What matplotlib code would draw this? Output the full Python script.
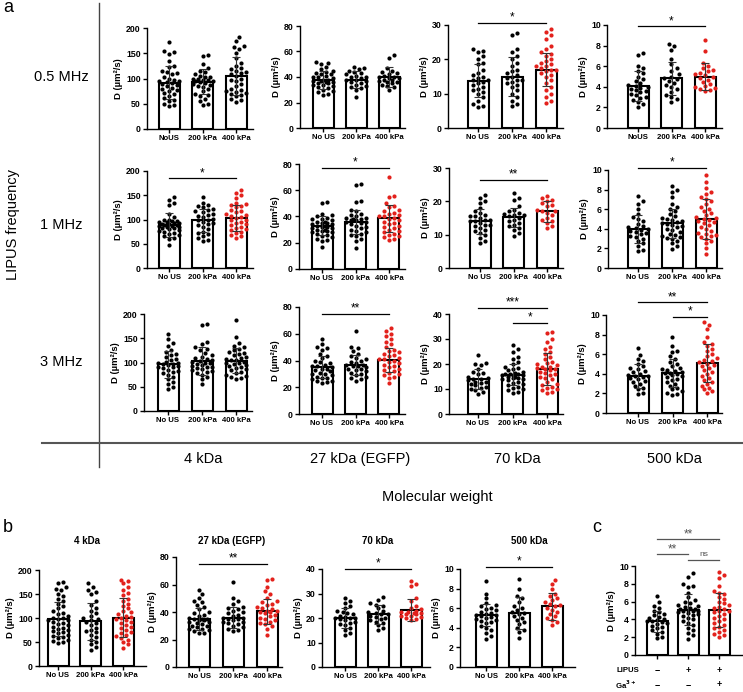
import numpy as np
import matplotlib
matplotlib.use("Agg")
import matplotlib.pyplot as plt
import matplotlib.font_manager as fm
from matplotlib import transforms

# ---------------- DATA ----------------
groups_std = ["No US", "200 kPa", "400 kPa"]
groups_r1 = ["NoUS", "200 kPa", "400 kPa"]
freq_labels = ["0.5 MHz", "1 MHz", "3 MHz"]
mw_labels = ["4 kDa", "27 kDa (EGFP)", "70 kDa", "500 kDa"]

# panel a, row 0.5 MHz
a_r1_4k = [[172,155,152,148,135,125,122,115,112,108,103,100,98,95,93,92,90,88,85,82,80,78,75,70,66,62,58,55,50,47,45,72,96,110],
           [147,145,128,120,115,112,108,105,102,100,98,97,96,95,93,92,90,88,86,84,80,75,70,68,65,60,55,50,47,103,99],
           [183,175,165,162,158,150,140,130,125,120,118,115,112,108,105,100,98,95,90,85,80,78,76,74,72,70,68,65,60,57,53,110]]
a_r1_4k_mean = [92, 94, 105]
a_r1_4k_sd = [32, 25, 37]
a_r1_27k = [[52,51,50,48,46,45,44,43,42,41,40,39,38,38,37,36,36,35,34,34,33,32,31,30,29,28,27,26,37,35,40,42],
            [48,47,46,45,44,43,42,41,40,39,38,37,36,35,34,33,32,31,30,24,38,40],
            [57,55,47,45,44,43,42,41,40,39,38,38,37,36,36,35,34,33,32,30,39,40]]
a_r1_27k_mean = [37.5, 38, 40]
a_r1_27k_sd = [7, 7, 7.5]
a_r1_70k = [[23,22.5,22,21,20,19,18.5,17,16,15,14.5,14,13.5,13,12.5,12,11.5,11,10.5,10,9,8,7,6.5,6,14,15.5],
            [27.7,27,23,22,21,20,19,18,17,16,15.5,15,14.5,14,13.5,13,12.5,12,11,10,9,8,7,6.5,16.5,14],
            [28.8,28,27,26,24,23,22,21.5,21,20,19.5,19,18.5,18,17.5,17,16.5,16,15.5,15,14,13,12,11,10,9,8,7.3,17,18]]
a_r1_70k_mean = [13.8, 15, 17]
a_r1_70k_sd = [4.7, 5.8, 4.8]
a_r1_500k = [[7.3,7.1,6.0,5.8,5.5,5.3,5.0,4.8,4.6,4.4,4.2,4.0,3.9,3.8,3.6,3.5,3.3,3.2,3.0,2.9,2.7,2.5,2.3,2.0,4.1,3.7],
             [8.2,8.0,7.6,6.7,6.2,5.8,5.5,5.2,5.0,4.8,4.6,4.4,4.2,4.0,3.8,3.5,3.2,3.0,2.8,2.5,4.9],
             [8.5,7.5,6.3,6.0,5.8,5.6,5.5,5.3,5.1,5.0,4.9,4.7,4.5,4.3,4.1,4.0,3.9,3.8,3.7,3.6,5.2]]
a_r1_500k_mean = [4.05, 4.85, 5.0]
a_r1_500k_sd = [1.45, 1.6, 1.3]

# panel a, row 1 MHz
a_r2_4k = [[146,140,135,130,112,105,100,98,96,95,94,93,92,90,89,88,87,86,85,84,83,82,80,78,76,75,73,70,68,65,62,60,48,91,97],
           [146,135,130,128,125,122,120,117,115,112,108,105,100,98,95,92,90,88,85,80,75,72,70,65,62,58,55,102,110],
           [160,155,150,145,135,132,130,128,125,120,118,115,112,110,108,105,100,98,95,92,90,88,85,82,80,78,75,72,68,65,62,103]]
a_r2_4k_mean = [88, 98, 103]
a_r2_4k_sd = [25, 24, 27]
a_r2_27k = [[51,50,42,41,40,39,38,37,36,35,35,34,34,33,33,32,32,31,31,30,30,29,29,28,28,27,26,25,24,23,22,21,17,36,38],
            [65,64,52,51,45,44,42,41,40,39,38,38,37,36,36,35,34,33,32,31,30,29,28,27,26,25,23,21,16,37,39],
            [70,56,55,50,48,47,45,44,43,42,41,40,39,38,37,36,35,34,33,32,31,30,29,28,27,26,25,24,23,22,40]]
a_r2_27k_mean = [33, 36, 38.5]
a_r2_27k_sd = [7, 9, 10]
a_r2_70k = [[22,21,20,19.5,18,17,16.5,16,15.5,15,14.5,14,14,13.5,13,13,12.5,12,11.5,11,10.5,10,9,8,7.5,14.5,15.5],
            [22.5,21,20.5,18.5,17.5,17,16.5,16,15.5,15,14.5,14,13.5,13,12.5,12,11.5,10.5,9.5,15.8,16.2],
            [21.5,21,20.5,20,19.5,19,18.5,17.5,17,16.5,16,15,14.5,14,13.5,12.5,12,17.2]]
a_r2_70k_mean = [14, 15.2, 17]
a_r2_70k_sd = [3.7, 2.9, 3.2]
a_r2_500k = [[7.3,6.8,6.5,6.0,5.5,5.2,5.0,4.8,4.5,4.3,4.2,4.0,3.9,3.8,3.7,3.5,3.3,3.2,3.0,2.8,2.5,2.2,1.8,1.7,4.1,3.6],
             [8.4,8.0,7.8,7.2,6.5,6.2,6.0,5.8,5.5,5.3,5.0,4.9,4.8,4.6,4.5,4.3,4.2,4.0,3.9,3.7,3.5,3.4,3.3,3.2,3.1,3.0,2.8,2.5,2.2,1.9,4.4,4.7,5.1],
             [9.5,8.8,8.2,7.8,7.5,7.2,7.0,6.8,6.5,6.2,6.0,5.8,5.6,5.4,5.2,5.0,4.9,4.8,4.6,4.4,4.2,4.0,3.8,3.6,3.5,3.4,3.3,3.2,3.0,2.8,2.5,2.0,1.4,5.1,4.7]]
a_r2_500k_mean = [4.0, 4.55, 5.0]
a_r2_500k_sd = [1.4, 1.5, 2.0]

# panel a, row 3 MHz
a_r3_4k = [[158,148,140,135,125,122,118,115,112,108,105,102,100,98,96,95,93,91,90,88,85,82,80,78,75,70,65,60,55,50,45,97],
           [180,178,142,138,132,128,125,120,115,112,110,108,105,102,100,98,96,95,93,91,90,88,86,84,82,80,78,75,70,65,55,104],
           [188,152,140,135,132,128,125,122,120,118,115,112,110,108,105,102,100,98,96,94,92,90,88,86,84,80,78,75,72,70,68,66,106]]
a_r3_4k_mean = [96, 103, 104]
a_r3_4k_sd = [27, 28, 26]
a_r3_27k = [[56,52,50,49,48,45,43,42,40,39,38,37,36,35,34,34,33,32,31,30,30,29,28,27,27,26,25,25,24,23,36],
            [62,50,49,47,45,43,42,41,40,39,38,37,36,36,35,34,34,33,32,31,30,29,28,27,26,25,37],
            [64,62,60,58,56,54,52,50,48,47,46,45,44,43,42,41,40,39,38,37,36,35,34,33,32,31,30,29,28,27,23,41]]
a_r3_27k_mean = [35, 36.5, 40.5]
a_r3_27k_sd = [8, 7.5, 9]
a_r3_70k = [[23.5,20.5,20,19.5,18,17,16.5,16,15,14.5,14,13.5,13,12.5,12,11.5,11,10.5,10,9.5,9,8,14,13],
            [27.5,26,25,23,22,21,20,19,18.5,18,17.5,17,16.5,16,16,15.5,15.5,15,15,14.5,14.5,14,14,13.5,13,12.5,12,11.5,11,10.5,10,9.5,9,8.5,16,15.8],
            [33,32.5,30,29,27,26,25,24,23,22,21,20.5,20,19.5,19,18.5,18,17.5,17,16.5,16,15.5,15,14.5,14,13,12,11.5,11,10.5,10,9.5,9,8.5,18,19]]
a_r3_70k_mean = [14, 15.8, 18]
a_r3_70k_sd = [4, 4.2, 6.3]
a_r3_500k = [[6.6,5.9,5.5,5.3,5.0,4.8,4.6,4.5,4.3,4.2,4.0,3.9,3.8,3.7,3.6,3.5,3.3,3.2,3.0,2.8,2.6,2.4,2.0,1.9,3.8],
             [7.8,6.8,6.3,6.2,5.8,5.5,5.2,5.0,4.8,4.6,4.5,4.4,4.2,4.1,4.0,3.9,3.8,3.7,3.5,3.4,3.2,3.0,2.8,2.6,2.4,2.2,2.0,1.9,1.8,4.1,4.3],
             [9.3,9.0,8.6,7.8,7.2,7.0,6.8,6.5,6.3,6.0,5.8,5.6,5.4,5.2,5.0,4.9,4.8,4.6,4.4,4.2,4.0,3.8,3.6,3.4,3.2,3.0,2.8,2.6,2.4,2.2,2.0,5.3]]
a_r3_500k_mean = [3.8, 4.1, 5.1]
a_r3_500k_sd = [1.2, 1.4, 1.9]

# panel b
b_4k = [[175,172,165,160,158,150,145,140,135,130,125,120,115,110,108,105,100,98,95,92,90,88,85,82,80,78,75,72,70,68,65,62,60,58,55,52,50,47,100,96],
        [172,165,158,155,150,135,128,120,115,110,105,100,98,95,90,85,80,75,72,70,65,60,55,50,45,40,33,92],
        [180,178,172,165,158,152,148,140,135,130,125,120,115,112,108,105,100,97,95,92,90,85,82,80,75,70,68,65,62,58,55,50,45,38,102]]
b_4k_mean = [98, 93, 101]
b_4k_sd = [35, 38, 40]
b_27k = [[56,53,50,48,47,45,44,42,40,39,38,37,36,35,35,34,33,33,32,31,30,30,29,28,28,27,26,25,25,35,34],
         [62,50,48,46,44,43,42,41,40,39,38,37,36,35,35,34,33,33,32,31,30,29,28,27,26,36],
         [64,63,58,55,53,50,48,47,46,45,44,43,42,41,40,40,39,38,37,36,35,34,33,32,31,30,28,23,41]]
b_27k_mean = [35, 36, 40.5]
b_27k_sd = [8, 7.5, 9]
b_70k = [[28,27,26,25,24,23,22.5,22,21.5,21,20.5,20,20,19.5,19,18.5,18,17.5,17,16,15,14,13,20],
         [28.5,27.5,26,25.5,25,24,23,22.5,22,21.5,21,20.5,20,19.5,19,18.5,18,17,16,15,21.5],
         [35,34,33,28,27,25,24,23.5,23,22.5,22,22,21.5,21.5,21,21,20.5,20,19.5,19,22.5]]
b_70k_mean = [20, 21.5, 23.3]
b_70k_sd = [4, 3.8, 4.5]
b_500k = [[8.8,7.5,7.0,6.5,6.3,6.2,6.0,5.9,5.8,5.6,5.5,5.4,5.3,5.2,5.1,5.0,4.9,4.8,4.7,4.6,4.5,4.2,4.0,3.8,3.5,3.2,2.9,5.3],
          [9.0,8.0,7.2,7.0,6.6,6.2,6.0,5.8,5.6,5.4,5.2,5.0,4.8,4.6,4.4,4.0,3.8,3.6,3.0,5.5],
          [8.9,8.5,8.0,7.5,7.2,7.0,6.8,6.6,6.4,6.2,6.0,5.8,5.6,5.4,5.2,5.0,4.8,4.6,4.3,6.3]]
b_500k_mean = [5.3, 5.5, 6.2]
b_500k_sd = [1.1, 1.6, 1.4]

# panel c
c_lipus = ["\u2212", "+", "+"]
c_ga = ["\u2212", "\u2212", "+"]
c_vals = [[6.6,5.9,5.5,5.3,5.0,4.8,4.6,4.5,4.3,4.2,4.0,3.9,3.8,3.7,3.6,3.5,3.3,3.2,3.0,2.8,2.6,2.4,2.0,1.9,3.8],
          [9.2,8.8,8.0,7.8,7.6,7.0,6.5,6.2,6.0,5.8,5.6,5.5,5.4,5.3,5.2,5.1,5.0,4.9,4.8,4.7,4.6,4.5,4.4,4.2,4.0,3.8,3.6,3.4,3.0,2.8,2.5,2.2,1.8,5.0,5.2],
          [9.3,9.0,8.6,7.8,7.2,7.0,6.8,6.5,6.3,6.0,5.8,5.6,5.4,5.2,5.0,4.9,4.8,4.6,4.4,4.2,4.0,3.8,3.6,3.4,3.2,3.0,2.8,2.6,2.4,2.2,2.0,5.3]]
c_mean = [3.8, 5.1, 5.1]
c_sd = [1.2, 1.7, 1.9]

# significance annotations: (i, j, height, label)
sig_a = [[[], [], [(0, 2, 30.6, "*")], [(0, 2, 9.87, "*")]],
         [[(0, 2, 185, "*")], [(0, 2, 77, "*")], [(0, 2, 26.4, "**")], [(0, 2, 10.2, "*")]],
         [[], [(0, 2, 74.8, "**")], [(0, 2, 42.4, "***"), (1, 2, 36.4, "*")], [(0, 2, 11.3, "**"), (1, 2, 9.8, "*")]]]
sig_b = [[], [(0, 2, 74.9, "**")], [(0, 2, 40.0, "*")], [(0, 2, 10.2, "*")]]
sig_c = [(0, 2, 13.0, "**"), (0, 1, 11.3, "**"), (1, 2, 10.7, "ns")]

# ---------------- STYLE ----------------
names = {f.name for f in fm.fontManager.ttflist}
FONT = "Liberation Sans" if "Liberation Sans" in names else "DejaVu Sans"
plt.rcParams["font.family"] = [FONT, "DejaVu Sans"]
RED = "#e3211c"
W, H = 743, 692

fig = plt.figure(figsize=(W / 100, H / 100), dpi=100)


def fx(px):
    return px / W


def fy(py):
    return 1 - py / H


def make_axes(geom):
    x0, ytop, y0, xend, b1, b3 = geom
    s = (b3 - b1) / 2.0
    ax = fig.add_axes([fx(x0), fy(y0), (xend - x0) / W, (y0 - ytop) / H])
    ax.set_xlim((x0 - b1) / s, (xend - b1) / s)
    return ax, s


def swarm_x(ax, xc, vals, d=4.4, maxhalf=10.0, step=2.5):
    T = ax.transData
    vals = np.asarray(vals, float)
    order = np.argsort(vals)
    cx = T.transform((xc, 0))[0]
    placed = []
    offs = np.zeros(len(vals))
    cands = [0.0]
    k = 1
    while k * step <= maxhalf:
        cands += [k * step, -k * step]
        k += 1
    for idx in order:
        py = T.transform((xc, vals[idx]))[1]
        best, bestd, bo = None, -1, 0.0
        for off in cands:
            md = min([np.hypot(off - px, py - qy) for px, qy in placed] + [99])
            if md >= d:
                best = off
                break
            if md > bestd:
                bestd, bo = md, off
        if best is None:
            best = bo
        placed.append((best, py))
        offs[idx] = best
    inv = T.inverted()
    return np.array([inv.transform((cx + o, 0))[0] for o in offs])


def draw_panel(ax, s, groups, means, sds, ymax, ystep, xlabels, red_last, sigs, sigcolor="black"):
    ax.set_ylim(0, ymax)
    x = np.arange(3)
    ax.bar(x, means, width=21 / s, color="white", edgecolor="black", linewidth=1.5, zorder=1)
    for i, g in enumerate(groups):
        xs = swarm_x(ax, i, g)
        col = RED if (red_last and i == 2) else "black"
        ax.scatter(xs, g, s=9, color=col, linewidths=0, zorder=2)
    ax.errorbar(x, means, yerr=sds, fmt="none", ecolor="#333333", elinewidth=0.8,
                capsize=3.2, capthick=0.8, zorder=3)
    for sp in ["top", "right"]:
        ax.spines[sp].set_visible(False)
    for sp in ["left", "bottom"]:
        ax.spines[sp].set_linewidth(1.0)
    ax.set_yticks(np.arange(0, ymax + ystep / 2, ystep))
    ax.set_yticklabels([f"{v:g}" for v in np.arange(0, ymax + ystep / 2, ystep)],
                       fontsize=6.3, fontweight="bold")
    ax.set_xticks(x)
    ax.set_xticklabels(xlabels, fontsize=5.6, fontweight="bold")
    ax.tick_params(direction="out", length=3, width=1.0, pad=1.5)
    ax.set_ylabel("D (\u00b5m\u00b2/s)", fontsize=6.8, fontweight="bold", labelpad=2)
    for (i, j, h, lab) in sigs:
        ax.plot([i, j], [h, h], color=sigcolor, lw=0.9, clip_on=False, zorder=4)
        if lab == "ns":
            ax.annotate(lab, ((i + j) / 2, h), xytext=(0, 1.5), textcoords="offset points",
                        ha="center", va="bottom", fontsize=6, color=sigcolor, annotation_clip=False)
        else:
            ax.annotate(lab, ((i + j) / 2, h), xytext=(0, -0.5), textcoords="offset points",
                        ha="center", va="bottom", fontsize=8.5, color=sigcolor, annotation_clip=False)


# ---------------- PANEL A ----------------
A_GEOM = [
    [(147, 28, 129, 253, 169, 236), (300, 26, 128, 405, 323, 389), (448, 25, 128, 563, 478, 546), (607, 25, 128, 722, 638, 705)],
    [(147, 171, 268, 253, 169, 236), (299, 164, 269, 405, 322, 389), (449, 168, 268, 563, 480, 547), (608, 170, 268, 722, 638, 706)],
    [(144, 314, 411, 252, 168, 236), (299, 307, 414, 405, 322, 389), (449, 314, 414, 563, 478, 547), (606, 315, 413, 722, 638, 707)],
]
a_data = [[a_r1_4k, a_r1_27k, a_r1_70k, a_r1_500k],
          [a_r2_4k, a_r2_27k, a_r2_70k, a_r2_500k],
          [a_r3_4k, a_r3_27k, a_r3_70k, a_r3_500k]]
a_means = [[a_r1_4k_mean, a_r1_27k_mean, a_r1_70k_mean, a_r1_500k_mean],
           [a_r2_4k_mean, a_r2_27k_mean, a_r2_70k_mean, a_r2_500k_mean],
           [a_r3_4k_mean, a_r3_27k_mean, a_r3_70k_mean, a_r3_500k_mean]]
a_sds = [[a_r1_4k_sd, a_r1_27k_sd, a_r1_70k_sd, a_r1_500k_sd],
         [a_r2_4k_sd, a_r2_27k_sd, a_r2_70k_sd, a_r2_500k_sd],
         [a_r3_4k_sd, a_r3_27k_sd, a_r3_70k_sd, a_r3_500k_sd]]
a_ymax = [[200, 80, 30, 10], [200, 80, 30, 10], [200, 80, 40, 10]]
a_ystep = [[50, 20, 10, 2], [50, 20, 10, 2], [50, 20, 10, 2]]
a_red = [[False, False, True, True], [True, True, True, True], [False, True, True, True]]

for r in range(3):
    for c in range(4):
        ax, s = make_axes(A_GEOM[r][c])
        labs = groups_r1 if (r == 0 and c in (0, 3)) else groups_std
        draw_panel(ax, s, a_data[r][c], a_means[r][c], a_sds[r][c], a_ymax[r][c], a_ystep[r][c],
                   labs, a_red[r][c], sig_a[r][c])

# frame lines of panel a
fig.add_artist(plt.Line2D([fx(99), fx(99)], [fy(3), fy(467)], color="#444444", lw=1.0))
fig.add_artist(plt.Line2D([fx(42), fx(743)], [fy(443), fy(443)], color="#555555", lw=1.5))

fig.text(fx(3), fy(8), "a", fontsize=13, ha="left", va="center")
fig.text(fx(13), fy(225), "LIPUS frequency", fontsize=10.5, rotation=90, ha="center", va="center")
for lab, yy in zip(freq_labels, [77, 225, 362]):
    fig.text(fx(61), fy(yy), lab, fontsize=10.5, ha="center", va="center")
for lab, xx in zip(mw_labels, [203, 360, 517, 674]):
    fig.text(fx(xx), fy(459), lab, fontsize=10.5, ha="center", va="center")
fig.text(fx(437), fy(497), "Molecular weight", fontsize=10.5, ha="center", va="center")

# ---------------- PANEL B ----------------
B_GEOM = [(39, 570, 666, 146, 58, 123), (176, 557, 667, 282, 199, 267),
          (322, 569, 667, 430, 345, 411), (460, 569, 667, 575, 486, 552)]
b_data = [b_4k, b_27k, b_70k, b_500k]
b_means = [b_4k_mean, b_27k_mean, b_70k_mean, b_500k_mean]
b_sds = [b_4k_sd, b_27k_sd, b_70k_sd, b_500k_sd]
b_ymax = [200, 80, 40, 10]
b_ystep = [50, 20, 10, 2]
b_title_x = [87, 232, 378, 529]
for c in range(4):
    ax, s = make_axes(B_GEOM[c])
    draw_panel(ax, s, b_data[c], b_means[c], b_sds[c], b_ymax[c], b_ystep[c], groups_std, True, sig_b[c])
    fig.text(fx(b_title_x[c]), fy(541), mw_labels[c], fontsize=7, fontweight="bold", ha="center", va="center")
fig.text(fx(3), fy(527), "b", fontsize=13, ha="left", va="center")

# ---------------- PANEL C ----------------
C_GEOM = (635, 566, 655, 742, 657, 719)
ax, s = make_axes(C_GEOM)
draw_panel(ax, s, c_vals, c_mean, c_sd, 10, 2, ["", "", ""], True, sig_c, sigcolor="#555555")
bt = transforms.blended_transform_factory(ax.transData, fig.transFigure)
for i in range(3):
    ax.text(i, fy(670), c_lipus[i], transform=bt, ha="center", va="center", fontsize=6.5, fontweight="bold")
    ax.text(i, fy(685), c_ga[i], transform=bt, ha="center", va="center", fontsize=6.5, fontweight="bold")
fig.text(fx(628), fy(670), "LIPUS", fontsize=5.6, fontweight="bold", ha="center", va="center")
fig.text(fx(626), fy(685), r"Ga$^{\mathbf{3+}}$", fontsize=5.6, fontweight="bold", ha="center", va="center")
fig.text(fx(597), fy(527), "c", fontsize=13, ha="center", va="center")

fig.savefig("out.png", dpi=100)
